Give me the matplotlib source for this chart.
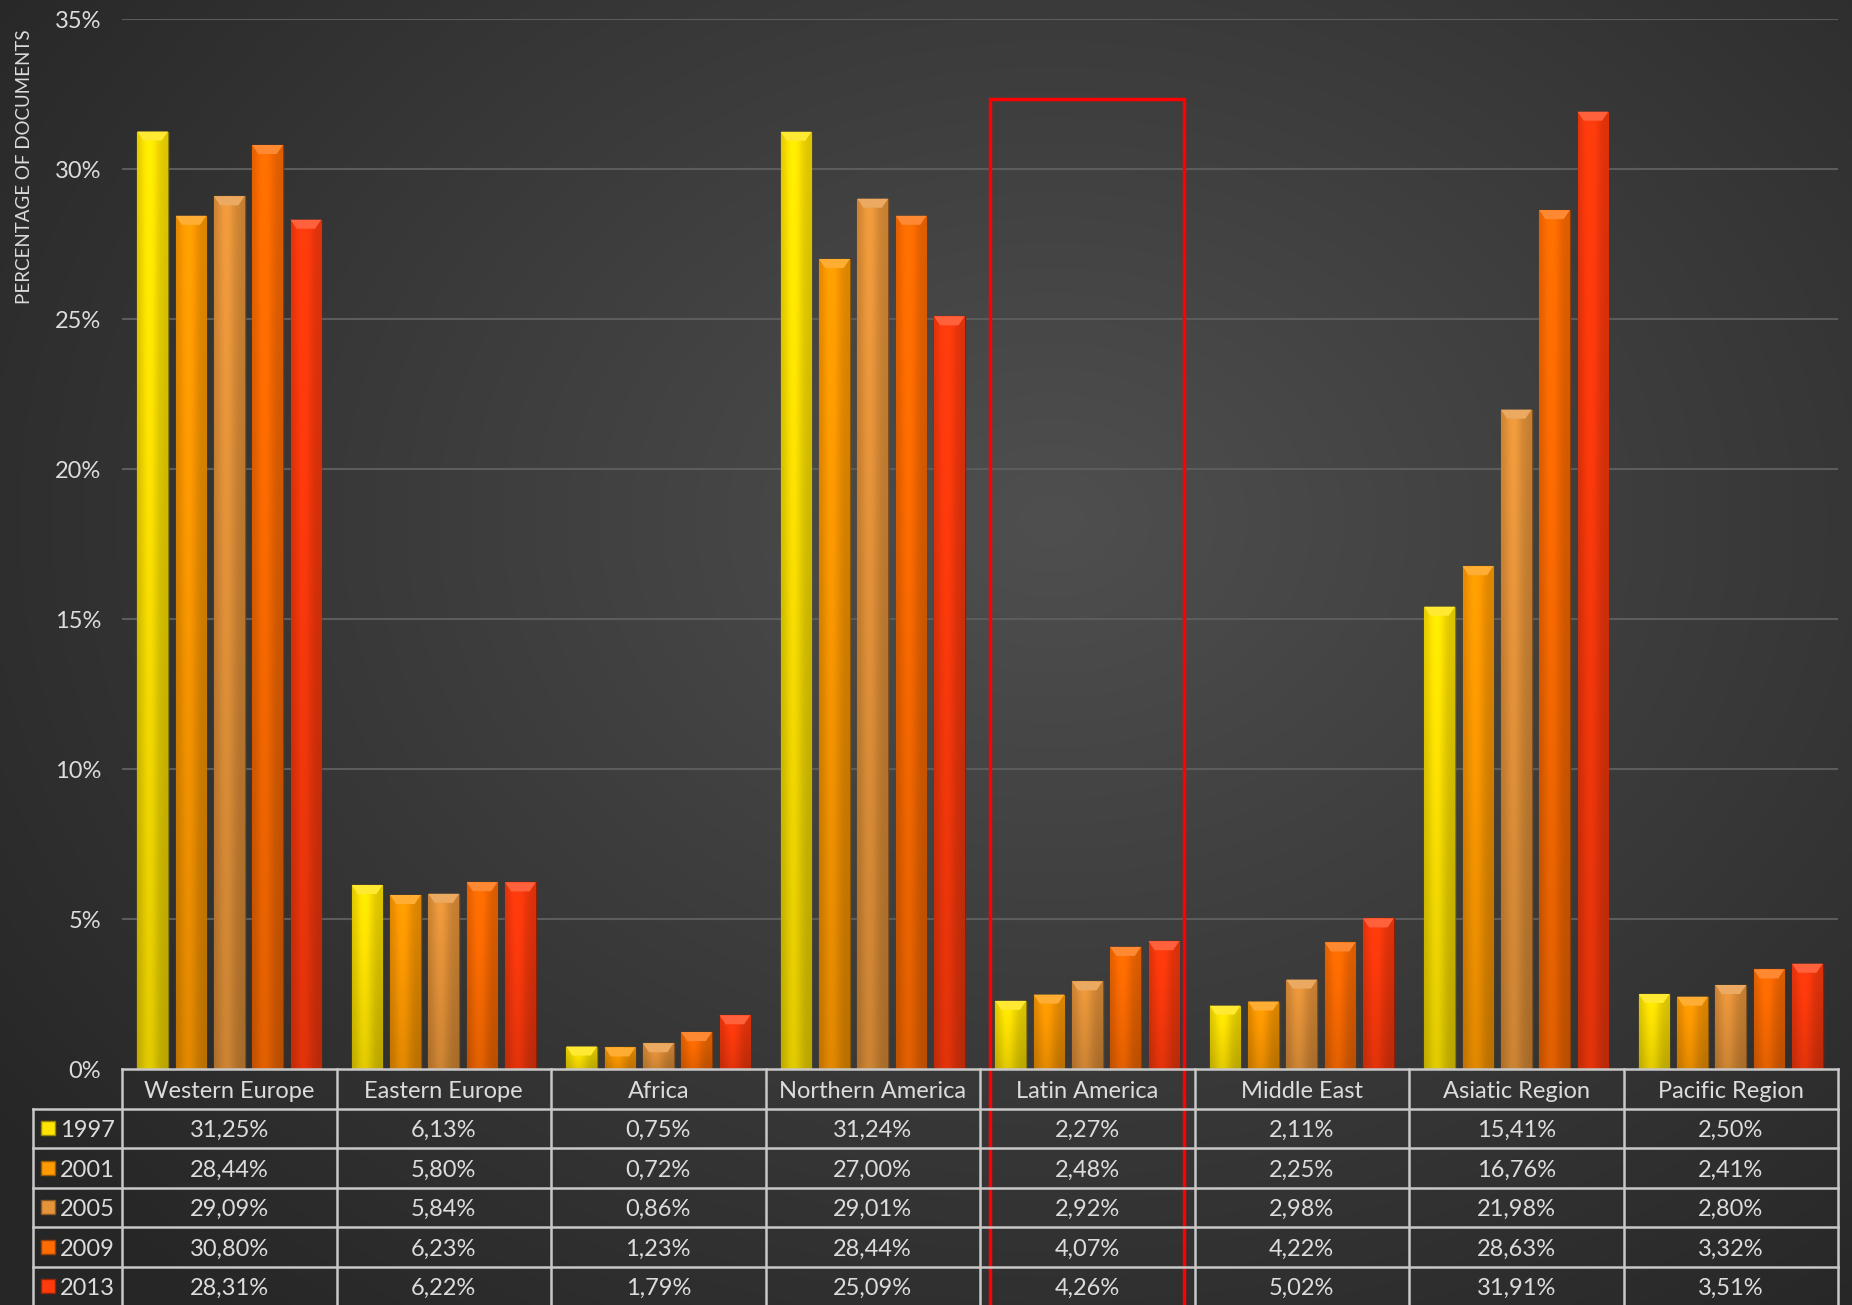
import numpy as np
import matplotlib
matplotlib.use("Agg")
import matplotlib.pyplot as plt
from matplotlib.patches import Rectangle, Polygon
from matplotlib.colors import to_rgb

plt.rcParams['font.family'] = ['Lato', 'DejaVu Sans']

# ---------------- data ----------------
regions = ["Western Europe", "Eastern Europe", "Africa", "Northern America",
           "Latin America", "Middle East", "Asiatic Region", "Pacific Region"]
years = ["1997", "2001", "2005", "2009", "2013"]
v1997 = [31.25, 6.13, 0.75, 31.24, 2.27, 2.11, 15.41, 2.50]
v2001 = [28.44, 5.80, 0.72, 27.00, 2.48, 2.25, 16.76, 2.41]
v2005 = [29.09, 5.84, 0.86, 29.01, 2.92, 2.98, 21.98, 2.80]
v2009 = [30.80, 6.23, 1.23, 28.44, 4.07, 4.22, 28.63, 3.32]
v2013 = [28.31, 6.22, 1.79, 25.09, 4.26, 5.02, 31.91, 3.51]
series = [v1997, v2001, v2005, v2009, v2013]
yticks = [0, 5, 10, 15, 20, 25, 30, 35]
highlight = "Latin America"

colors = ["#FFE400", "#FF9A00", "#E6943A", "#FF6C00", "#FF3A0C"]
text_col = "#DCDCDC"
grid_col = "#5C5C5C"
line_col = "#C8C8C8"
fs = 17

W, H = 1852, 1305
fig = plt.figure(figsize=(W / 100, H / 100), dpi=100)

# ---------------- background ----------------
bg = fig.add_axes([0, 0, 1, 1], zorder=-10)
yy, xx = np.mgrid[0:H:4, 0:W:4]
cx, cy = 1050, 520
r = np.sqrt(((xx - cx) / 1150.0) ** 2 + ((yy - cy) / 900.0) ** 2)
lev = np.clip(0.31 - 0.14 * r, 0.15, 0.31)
img = np.dstack([lev, lev, lev])
bg.imshow(img, extent=(0, W, H, 0), aspect='auto', interpolation='bilinear')
bg.set_xlim(0, W); bg.set_ylim(H, 0); bg.axis('off')

# ---------------- main axes ----------------
left_px, right_px, top_px, base_px = 122, 1838, 19, 1069
ax = fig.add_axes([left_px / W, (H - base_px) / H, (right_px - left_px) / W,
                   (base_px - top_px) / H])
ax.set_facecolor('none')
n = len(regions)
ax.set_xlim(-0.5, n - 0.5)
ax.set_ylim(0, 35)
for s in ax.spines.values():
    s.set_visible(False)
ax.set_xticks([])
ax.set_yticks(yticks)
ax.set_yticklabels([f"{t}%" for t in yticks], color=text_col, fontsize=fs)
ax.tick_params(axis='y', length=0, pad=15)
for t in yticks[1:]:
    ax.axhline(t, color=grid_col, lw=1.5, zorder=0)

slot = 0.1786
bw = 0.143
x = np.arange(n)


def shade(c, f):
    c = np.array(to_rgb(c))
    if f >= 1:
        return np.clip(c + (1 - c) * (f - 1), 0, 1)
    return np.clip(c * f, 0, 1)


hprof = np.linspace(0, 1, 40)
hfac = 0.86 + 0.2 * np.exp(-((hprof - 0.4) / 0.3) ** 2)
vprof = np.linspace(1, 0, 60)
for k, (vals, col) in enumerate(zip(series, colors)):
    bars = ax.bar(x + (k - 2) * slot, vals, width=bw, color=col,
                  edgecolor=shade(col, 0.55), linewidth=1.0, zorder=3)
    base = np.array(to_rgb(col))
    for b in bars:
        x0, w, h = b.get_x(), b.get_width(), b.get_height()
        vf = 0.84 + 0.16 * vprof[:, None]
        grad = np.clip(base[None, None, :] * (vf * hfac[None, :])[:, :, None], 0, 1)
        im = ax.imshow(grad, extent=(x0, x0 + w, 0, h), aspect='auto',
                       interpolation='bilinear', zorder=3.5, origin='upper')
        im.set_clip_path(b)
        bev = 0.3
        ax.add_patch(Polygon([(x0, h), (x0 + w, h), (x0 + w * 0.8, h - bev),
                              (x0 + w * 0.2, h - bev)], closed=True,
                             facecolor=shade(col, 1.2), edgecolor='none',
                             zorder=4))

fig.text(25 / W, 1 - 167 / H, "PERCENTAGE OF DOCUMENTS", rotation=90,
         ha='center', va='center', color=text_col, fontsize=13.5)

# ---------------- data table ----------------
leg_px = 33
cw = (right_px - left_px) / n
row_h = 39.5
nrows = 6
tax = fig.add_axes([leg_px / W, (H - base_px - nrows * row_h) / H,
                    (right_px - leg_px) / W, nrows * row_h / H])
tax.set_facecolor('none')
xl = -0.5 - (left_px - leg_px) / cw
tax.set_xlim(xl, n - 0.5)
tax.set_ylim(nrows, 0)
tax.axis('off')
lw = 1.8
tax.plot([-0.5, n - 0.5], [0, 0], color=line_col, lw=lw, clip_on=False)
for rr in range(1, nrows + 1):
    tax.plot([xl, n - 0.5], [rr, rr], color=line_col, lw=lw, clip_on=False)
for cc in range(n + 1):
    tax.plot([cc - 0.5, cc - 0.5], [0, nrows], color=line_col, lw=lw, clip_on=False)
tax.plot([xl, xl], [1, nrows], color=line_col, lw=lw, clip_on=False)
dy = 0.06
for i, name in enumerate(regions):
    tax.text(i, 0.5 + dy, name, ha='center', va='center', color=text_col, fontsize=fs)
for k, (yr, vals, col) in enumerate(zip(years, series, colors)):
    ry = k + 1.5
    tax.plot([xl + (47.5 - leg_px) / cw], [ry], marker='s', markersize=10,
             color=col, markeredgecolor=shade(col, 0.6), clip_on=False)
    tax.text(xl + (60 - leg_px) / cw, ry + dy, yr, ha='left', va='center',
             color=text_col, fontsize=fs)
    for i, v in enumerate(vals):
        tax.text(i, ry + dy, f"{v:.2f}%".replace('.', ','), ha='center',
                 va='center', color=text_col, fontsize=fs)

# ---------------- highlight box ----------------
hi = regions.index(highlight)
ax.add_patch(Rectangle((hi - 0.453, -20), 0.906, 20 + 32.33, fill=False,
                       edgecolor='#FF0000', lw=2.5, zorder=20, clip_on=False))

fig.savefig("out.png", dpi=100)
